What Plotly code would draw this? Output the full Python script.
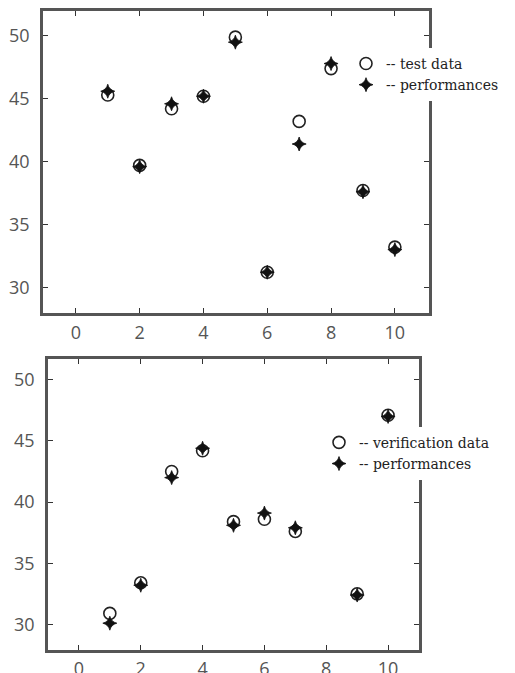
import plotly.graph_objects as go

# Top panel: test data
x_test = [1, 2, 3, 4, 5, 6, 7, 8, 9, 10]
test_data = [45.3, 39.7, 44.2, 45.2, 49.9, 31.2, 43.2, 47.4, 37.7, 33.2]
test_perf = [45.6, 39.6, 44.6, 45.2, 49.5, 31.2, 41.4, 47.8, 37.6, 33.0]

# Bottom panel: verification data
x_ver = [1, 2, 3, 4, 5, 6, 7, 9, 10]
ver_data = [30.9, 33.4, 42.5, 44.2, 38.4, 38.6, 37.6, 32.5, 47.1]
ver_perf = [30.1, 33.2, 42.0, 44.4, 38.1, 39.1, 37.9, 32.4, 47.0]

x_ticks = [0, 2, 4, 6, 8, 10]
y_ticks = [30, 35, 40, 45, 50]

W, H = 515, 673
OFF = 8  # page body margin in the browser
circle = dict(symbol="circle-open", size=12, color="#222", line=dict(width=1.6, color="#222"))
star = dict(symbol="star-diamond", size=10, color="#111", line=dict(width=0.8, color="#111"))

fig = go.Figure()
fig.add_trace(go.Scatter(x=x_test, y=test_data, mode="markers", marker=circle,
                         name="-- test data", xaxis="x", yaxis="y", legend="legend"))
fig.add_trace(go.Scatter(x=x_test, y=test_perf, mode="markers", marker=star,
                         name="-- performances", xaxis="x", yaxis="y", legend="legend"))
fig.add_trace(go.Scatter(x=x_ver, y=ver_data, mode="markers", marker=circle,
                         name="-- verification data", xaxis="x2", yaxis="y2", legend="legend2"))
fig.add_trace(go.Scatter(x=x_ver, y=ver_perf, mode="markers", marker=star,
                         name="-- performances", xaxis="x2", yaxis="y2", legend="legend2"))

axis_common = dict(
    showgrid=False, zeroline=False, showline=True, linecolor="#555", linewidth=2.5,
    mirror="ticks", ticks="inside", ticklen=5, tickwidth=1.2, tickcolor="#333",
    tickfont=dict(family="Open Sans", size=18, color="#555"),
)

legend_font = dict(family="DejaVu Serif", size=14, color="#222")


def xd(a, b):
    return [(a - OFF) / W, (b - OFF) / W]


def yd(top, bottom):
    return [1 - (bottom - OFF) / H, 1 - (top - OFF) / H]


fig.update_layout(
    width=W, height=H,
    margin=dict(l=0, r=0, t=0, b=0),
    paper_bgcolor="white", plot_bgcolor="white",
    xaxis=dict(domain=xd(43, 429), range=[-1.03, 11.07], tickvals=x_ticks,
               anchor="y", ticklabelstandoff=2, **axis_common),
    yaxis=dict(domain=yd(9, 312), range=[27.95, 51.98], tickvals=y_ticks,
               anchor="x", ticklabelstandoff=7, **axis_common),
    xaxis2=dict(domain=xd(48, 419), range=[-1.0, 11.0], tickvals=x_ticks,
                anchor="y2", ticklabelstandoff=1, **axis_common),
    yaxis2=dict(domain=yd(358, 650), range=[27.9, 51.7], tickvals=y_ticks,
                anchor="x2", ticklabelstandoff=7, **axis_common),
    legend=dict(x=338 / W, y=1 - 38 / H, xanchor="left", yanchor="top",
                bgcolor="rgba(255,255,255,1)", borderwidth=0, itemwidth=30,
                font=legend_font, tracegroupgap=0),
    legend2=dict(x=311 / W, y=1 - 418 / H, xanchor="left", yanchor="top",
                 bgcolor="rgba(255,255,255,1)", borderwidth=0, itemwidth=30,
                 font=legend_font, tracegroupgap=0),
    showlegend=True,
)

fig.write_html("out.html")
